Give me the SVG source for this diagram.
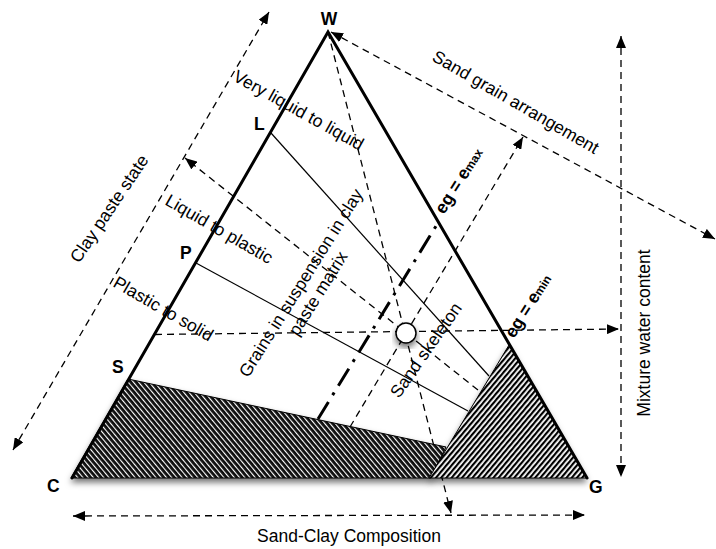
<svg xmlns="http://www.w3.org/2000/svg" width="716" height="549" viewBox="0 0 716 549">
<style>
text{font-family:"Liberation Sans",Arial,sans-serif;fill:#000}
.lbl{font-size:17.5px}
.b{font-size:17.5px;font-weight:bold}
.dash{fill:none;stroke:#000;stroke-width:1.3;stroke-dasharray:7 5}
.thin{fill:none;stroke:#000;stroke-width:1.2}
.side{fill:none;stroke:#000;stroke-width:3;stroke-linecap:round}
</style>
<defs>
<marker id="ah" viewBox="0 0 12 10" refX="12" refY="5" markerWidth="12" markerHeight="10" markerUnits="userSpaceOnUse" orient="auto-start-reverse">
<path d="M0,0 L12,5 L0,10 z" fill="#000"/>
</marker>
<pattern id="hatchL" patternUnits="userSpaceOnUse" width="4" height="4" patternTransform="rotate(-40)">
<rect width="4" height="4" fill="#111"/>
<rect x="0" y="0" width="1.1" height="4" fill="#fff"/>
</pattern>
<pattern id="hatchR" patternUnits="userSpaceOnUse" width="4" height="4" patternTransform="rotate(40)">
<rect width="4" height="4" fill="#fff"/>
<rect x="0" y="0" width="2.2" height="4" fill="#000"/>
</pattern>
<filter id="sh" x="-20%" y="-20%" width="140%" height="150%">
<feDropShadow dx="0" dy="4" stdDeviation="3" flood-color="#000" flood-opacity="0.55"/>
</filter>
</defs>

<g id="connectors">
<line class="dash" x1="13" y1="450" x2="269" y2="12" marker-start="url(#ah)" marker-end="url(#ah)"/>
<line class="dash" x1="331" y1="32" x2="715" y2="239" marker-start="url(#ah)" marker-end="url(#ah)"/>
<line class="dash" x1="621" y1="36" x2="621" y2="477" marker-start="url(#ah)" marker-end="url(#ah)"/>
<line class="dash" x1="73" y1="516" x2="585" y2="515" marker-start="url(#ah)" marker-end="url(#ah)"/>
<line class="dash" x1="155" y1="334.5" x2="619" y2="329" marker-end="url(#ah)"/>
<line class="dash" x1="478" y1="390" x2="185" y2="158" marker-end="url(#ah)"/>
<line class="dash" x1="328" y1="32" x2="451" y2="513" marker-end="url(#ah)"/>
<line class="dash" x1="350" y1="427" x2="523" y2="137" marker-end="url(#ah)"/>
<line x1="318" y1="419" x2="438.5" y2="222" fill="none" stroke="#000" stroke-width="3" stroke-dasharray="20 8 3 8"/>
<line class="thin" x1="271" y1="133" x2="489" y2="376"/>
<line class="thin" x1="196" y1="263" x2="468" y2="411"/>
</g>

<g id="clay-region">
<polygon points="128,379 71,478 431,478 446,447" fill="url(#hatchL)" stroke="#000" stroke-width="1" filter="url(#sh)"/>
</g>
<g id="sand-region">
<polygon points="509,345 429,478 587,478" fill="url(#hatchR)" stroke="#000" stroke-width="1" filter="url(#sh)"/>
</g>

<g id="triangle">
<polyline class="side" points="72,478 328,32 587,478"/>
</g>

<g id="state-point">
<circle cx="406" cy="333" r="10" fill="#fff" stroke="#000" stroke-width="1.5" filter="url(#sh)"/>
</g>

<g id="vertex-labels">
<text class="b" x="329" y="25" text-anchor="middle">W</text>
<text class="b" x="254" y="130">L</text>
<text class="b" x="180" y="259">P</text>
<text class="b" x="112" y="373">S</text>
<text class="b" x="47" y="492">C</text>
<text class="b" x="589" y="493">G</text>
</g>

<g id="region-labels">
<text class="lbl" transform="translate(232,80) rotate(29)">Very liquid to liquid</text>
<text class="lbl" transform="translate(164,204) rotate(30)">Liquid to plastic</text>
<text class="lbl" transform="translate(112,286) rotate(30)">Plastic to solid</text>
<text class="lbl" transform="translate(431,60) rotate(30)">Sand grain arrangement</text>
<text class="lbl" transform="translate(79,264) rotate(-56)">Clay paste state</text>
<g transform="translate(306,286) rotate(-58)">
<text class="lbl" x="0" y="0" text-anchor="middle">Grains in suspension in clay</text>
<text class="lbl" x="0" y="20" text-anchor="middle">paste matrix</text>
</g>
<text class="lbl" transform="translate(399,399) rotate(-55)">Sand skeleton</text>
<text class="b" transform="translate(444,215) rotate(-58)">eg = e<tspan font-size="12">max</tspan></text>
<text class="b" transform="translate(514,339) rotate(-58)">eg = e<tspan font-size="12">min</tspan></text>
<text class="lbl" transform="translate(650,333) rotate(-90)" text-anchor="middle">Mixture water content</text>
<text class="lbl" x="349" y="542" text-anchor="middle">Sand-Clay Composition</text>
</g>
</svg>
